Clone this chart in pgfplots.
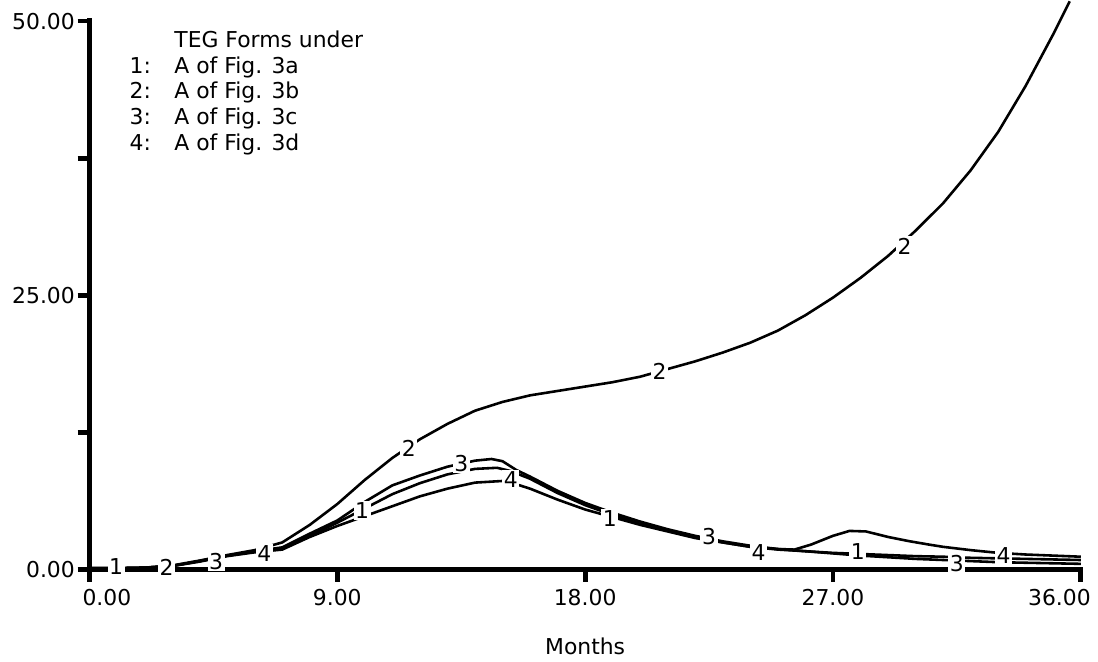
\documentclass[border=0pt]{standalone}
\usepackage{fontspec}
\setmainfont{DejaVu Sans}
\usepackage{pgfplots}
\pgfplotsset{compat=1.18}

\begin{document}
\fontsize{11}{12.85}\selectfont
\begin{tikzpicture}[lbl/.style={fill=white, inner sep=0.8pt}, crv/.style={black, no markers, line width=1.3pt}]
\begin{axis}[
  scale only axis,
  width=498.5pt, height=276pt,
  xmin=0, xmax=36, ymin=0, ymax=50,
  axis lines=left,
  axis line style={-, line width=2.6pt, line cap=rect},
  clip=false,
  tick align=outside,
  major tick length=6pt, minor tick length=6pt,
  tick style={black, line width=2.4pt},
  xtick={0,9,18,27,36},
  xticklabels={{\makebox[0pt][l]{0.00}\kern7pt},9.00,18.00,27.00,{\kern10pt\makebox[0pt][r]{36.00}}},
  ytick={0,25,50},
  yticklabels={0.00,25.00,50.00},
  yticklabel style={xshift=2.5pt},
  minor ytick={12.5,37.5},
  xlabel={Months},
  xlabel style={at={(axis description cs:0.5,0)}, anchor=base, yshift=-42.5pt},
]
% 2: A of Fig. 3b
\addplot[crv] coordinates {
 (0,0.15) (1,0.15) (2,0.2) (3,0.4) (4,0.85) (5,1.35) (6,1.8) (7,2.5) (8,4.1)
 (9,6.0) (10,8.2) (11,10.2) (12,11.9) (13,13.3) (14,14.5) (15,15.3) (16,15.9)
 (17,16.3) (18,16.7) (19,17.1) (20,17.6) (21,18.3) (22,19.0) (23,19.8) (24,20.7)
 (25,21.8) (26,23.2) (27,24.8) (28,26.6) (29,28.6) (30,30.9) (31,33.4) (32,36.4)
 (33,39.9) (34,44.1) (35,48.8) (35.6,51.8)
};
% 1: A of Fig. 3a
\addplot[crv] coordinates {
 (0,0.15) (1,0.15) (2,0.2) (3,0.35) (4,0.8) (5,1.3) (6,1.65) (7,1.95) (8,3.1)
 (9,4.3) (10,5.6) (11,6.9) (12,7.9) (13,8.7) (14,9.2) (14.8,9.3) (15.3,9.0)
 (16,8.3) (17,7.0) (18,5.9) (19,5.0) (20,4.2) (21,3.6) (22,3.0) (23,2.5) (24,2.1)
 (25,1.85) (26,1.7) (27,1.55) (28,1.45) (29,1.35) (30,1.25) (31,1.2) (32,1.1)
 (33,1.05) (34,1.0) (35,0.95) (36,0.9)
};
% 3: A of Fig. 3c
\addplot[crv] coordinates {
 (0,0.15) (1,0.15) (2,0.2) (3,0.35) (4,0.8) (5,1.3) (6,1.7) (7,2.05) (8,3.3)
 (9,4.5) (10,6.2) (11,7.7) (12,8.6) (13,9.4) (14,9.95) (14.6,10.1) (15,9.9)
 (15.5,9.1) (16,8.5) (17,7.2) (18,6.1) (19,5.2) (20,4.4) (21,3.7) (22,3.1)
 (23,2.6) (24,2.2) (25,1.9) (26,1.7) (27,1.5) (28,1.3) (29,1.15) (30,1.0)
 (31,0.9) (32,0.8) (33,0.7) (34,0.65) (35,0.6) (36,0.55)
};
% 4: A of Fig. 3d
\addplot[crv] coordinates {
 (0,0.15) (1,0.15) (2,0.2) (3,0.35) (4,0.75) (5,1.25) (6,1.6) (7,1.85) (8,3.0)
 (9,4.0) (10,4.9) (11,5.8) (12,6.7) (13,7.4) (14,7.95) (15,8.1) (15.5,7.8)
 (16,7.4) (17,6.4) (18,5.5) (19,4.8) (20,4.1) (21,3.5) (22,2.9) (23,2.5)
 (24,2.1) (25,1.9) (25.6,1.85) (26.2,2.3) (27,3.1) (27.6,3.55) (28.2,3.5)
 (29,3.0) (29.8,2.6) (30.5,2.3) (31,2.1) (32,1.8) (33,1.55) (34,1.4) (35,1.3) (36,1.2)
};
% curve numbers
\node[lbl] at (axis cs:0.97,0.27) {1};
\node[lbl] at (axis cs:2.8,0.25) {2};
\node[lbl] at (axis cs:4.6,0.8) {3};
\node[lbl] at (axis cs:6.35,1.45) {4};
\node[lbl] at (axis cs:9.9,5.4) {1};
\node[lbl] at (axis cs:11.6,11.1) {2};
\node[lbl] at (axis cs:13.5,9.7) {3};
\node[lbl] at (axis cs:15.3,8.2) {4};
\node[lbl] at (axis cs:18.9,4.7) {1};
\node[lbl] at (axis cs:20.7,18.1) {2};
\node[lbl] at (axis cs:22.5,3.0) {3};
\node[lbl] at (axis cs:24.3,1.6) {4};
\node[lbl] at (axis cs:27.9,1.7) {1};
\node[lbl] at (axis cs:29.6,29.5) {2};
\node[lbl] at (axis cs:31.5,0.6) {3};
\node[lbl] at (axis cs:33.2,1.35) {4};
\end{axis}
\node[anchor=base west, inner sep=0] at ([xshift=42.5pt,yshift=-13.5pt]current axis.north west) {TEG Forms under};
\foreach \i/\t in {1/a,2/b,3/c,4/d} {
  \node[anchor=base west, inner sep=0] at ([xshift=20pt,yshift={-13.5pt-\i*12.85pt}]current axis.north west) {\i:};
  \node[anchor=base west, inner sep=0] at ([xshift=42.5pt,yshift={-13.5pt-\i*12.85pt}]current axis.north west) {A of Fig. 3\t};
}
\path ([xshift=-45pt,yshift=-46pt]current axis.south west) rectangle ([xshift=5.5pt,yshift=10pt]current axis.north east);
\end{tikzpicture}
\end{document}
